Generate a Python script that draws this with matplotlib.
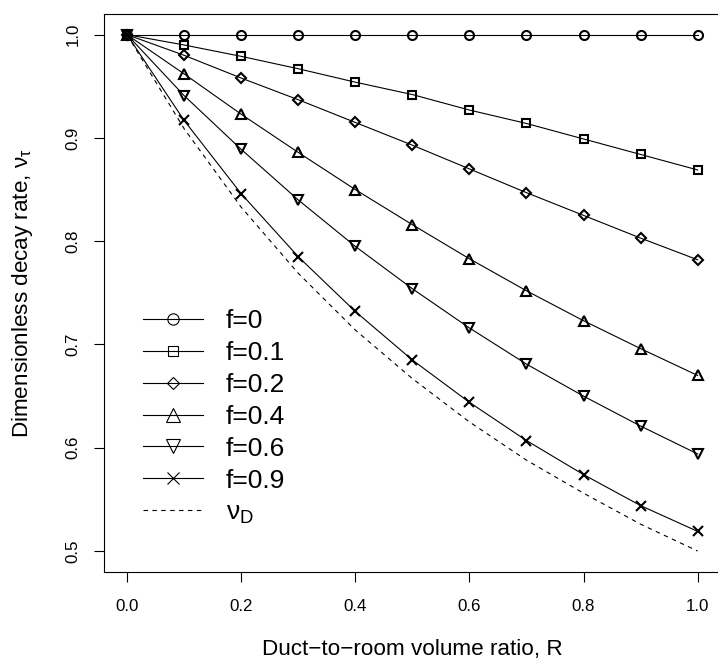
import numpy as np
import matplotlib
matplotlib.use("Agg")
from matplotlib import pyplot as plt

plt.rcParams['font.family'] = ['Liberation Sans', 'DejaVu Sans']
plt.rcParams['mathtext.fontset'] = 'custom'
plt.rcParams['mathtext.rm'] = 'Liberation Sans'
plt.rcParams['mathtext.it'] = 'Liberation Sans'

# duct-to-room volume ratio
R = [0.0, 0.1, 0.2, 0.3, 0.4, 0.5, 0.6, 0.7, 0.8, 0.9, 1.0]

# decay rate, one list per f
nu_f0 = [1.0, 1.0, 1.0, 1.0, 1.0, 1.0, 1.0, 1.0, 1.0, 1.0, 1.0]
nu_f01 = [1.0, 0.990, 0.979, 0.967, 0.954, 0.942, 0.927, 0.914, 0.899, 0.884, 0.869]
nu_f02 = [1.0, 0.980, 0.958, 0.937, 0.915, 0.893, 0.870, 0.847, 0.825, 0.803, 0.782]
nu_f04 = [1.0, 0.962, 0.923, 0.886, 0.850, 0.816, 0.783, 0.752, 0.723, 0.696, 0.670]
nu_f06 = [1.0, 0.941, 0.889, 0.840, 0.795, 0.754, 0.716, 0.681, 0.650, 0.621, 0.594]
nu_f09 = [1.0, 0.917, 0.846, 0.785, 0.732, 0.685, 0.644, 0.607, 0.574, 0.544, 0.519]
nu_D = [1.0, 0.909, 0.833, 0.769, 0.714, 0.667, 0.625, 0.588, 0.556, 0.526, 0.500]

labels = ['f=0', 'f=0.1', 'f=0.2', 'f=0.4', 'f=0.6', 'f=0.9']
series = [nu_f0, nu_f01, nu_f02, nu_f04, nu_f06, nu_f09]
markers = ['o', 's', 'D', '^', 'v', 'x']
msizes = [6.5, 5.3, 5.2, 7.6, 7.6, 7.4]

xticks = [0.0, 0.2, 0.4, 0.6, 0.8, 1.0]
yticks = [0.5, 0.6, 0.7, 0.8, 0.9, 1.0]

fig = plt.figure(figsize=(7.18, 6.62), dpi=100)
ax = fig.add_axes([104.2/718, 1-571.7/662, 616.3/718, 557.7/662])

handles = []
for y, lab, m, ms in zip(series, labels, markers, msizes):
    ax.plot(R, y, color='black', lw=0.8, marker=m, ms=ms, mfc='none',
            mec='black', mew=1.5)
    h, = ax.plot([], [], color='black', lw=0.8, marker=m, ms=ms*1.25,
                 mfc='none', mec='black', mew=0.8, label=lab)
    handles.append(h)
hd, = ax.plot(R, nu_D, color='black', lw=0.8, ls=(0, (4, 4)), label=r'$\nu_\mathrm{D}$')
handles.append(hd)

ax.set_xlim(-0.04, 1.04)
ax.set_ylim(0.48, 1.02)
ax.set_xticks(xticks)
ax.set_xticklabels(['%.1f' % t for t in xticks])
ax.set_yticks(yticks)
ax.set_yticklabels(['%.1f' % t for t in yticks], rotation=90, va='center')
ax.tick_params(direction='out', length=7.5, width=0.8, labelsize=12.2, colors='black')
ax.tick_params(axis='x', pad=12)
ax.tick_params(axis='y', pad=9.5)
for s in ax.spines.values():
    s.set_linewidth(0.8)

ax.set_xlabel('Duct\u2212to\u2212room volume ratio, R', fontsize=16.2)
ax.set_ylabel(r'Dimensionless decay rate, $\nu_\tau$', fontsize=16.2)
ax.xaxis.label.set_va('center')
ax.yaxis.label.set_va('center')
ax.xaxis.set_label_coords(0.5, (571.7-650)/557.7)
ax.yaxis.set_label_coords((22-104.2)/616.3, 0.5)

ax.legend(handles=handles, loc='upper left', frameon=False, fontsize=19,
          bbox_to_anchor=((143-104.2)/616.3, (571.7-309)/557.7),
          borderpad=0, borderaxespad=0, handlelength=2.27, handletextpad=0.87,
          labelspacing=0.3)

fig.savefig('out.png', dpi=100)
